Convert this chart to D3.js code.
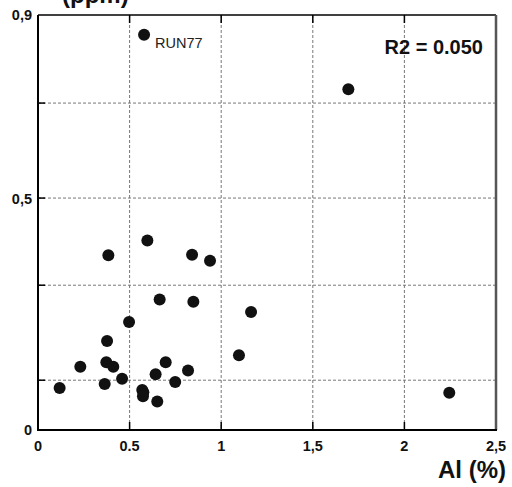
<!DOCTYPE html>
<html>
<head>
<meta charset="utf-8" />
<script src="https://d3js.org/d3.v7.min.js"></script>
<style>
  body { margin: 0; background: #fff; }
  svg { font-family: "Liberation Sans", Arial, sans-serif; }
  .tick-label { font-size: 14.5px; font-weight: bold; fill: #111; }
  .grid { stroke: #777; stroke-width: 1; stroke-dasharray: 3,2; }
</style>
</head>
<body>
<div id="chart"></div>
<script>
// Al (%) vs ppm, one dot per sample
var alValues = [0.118, 0.231, 0.364, 0.373, 0.411, 0.377, 0.384, 0.459, 0.497, 0.569,
                0.575, 0.573, 0.597, 0.642, 0.651, 0.664, 0.697, 0.749, 0.819, 0.841,
                0.848, 0.939, 1.097, 1.163, 0.579, 1.694, 2.245];
var ppmValues = [0.091, 0.137, 0.100, 0.147, 0.137, 0.193, 0.379, 0.111, 0.234, 0.087,
                 0.082, 0.073, 0.411, 0.121, 0.062, 0.283, 0.147, 0.104, 0.129, 0.380,
                 0.278, 0.367, 0.162, 0.256, 0.857, 0.739, 0.081];
var pointLabels = ["", "", "", "", "", "", "", "", "", "", "", "", "", "", "", "", "", "",
                   "", "", "", "", "", "", "RUN77", "", ""];

var xTicks = [0, 0.5, 1, 1.5, 2, 2.5];
var xTickLabels = ["0", "0.5", "1", "1,5", "2", "2,5"];
var xGrid = [0.5, 1, 1.5, 2];
var yTicks = [0, 0.5, 0.9];
var yTickLabels = ["0", "0,5", "0,9"];
var yGrid = [0.108, 0.314, 0.503, 0.709];
var r2Text = "R2 = 0.050";

var W = 512, H = 487;
var padL = 38, padR = 496, padT = 15, padB = 430;

var svg = d3.select("#chart").append("svg")
    .attr("width", W).attr("height", H);

var x = d3.scaleLinear().domain([0, 2.5]).range([padL, padR]);
var y = d3.scaleLinear().domain([0, 0.9]).range([padB, padT]);

// grid
svg.selectAll(".gx").data(xGrid).enter().append("line")
    .attr("class", "grid")
    .attr("x1", d => x(d)).attr("x2", d => x(d))
    .attr("y1", padT).attr("y2", padB);
svg.selectAll(".gy").data(yGrid).enter().append("line")
    .attr("class", "grid")
    .attr("x1", padL).attr("x2", padR)
    .attr("y1", d => y(d)).attr("y2", d => y(d));

// inner ticks
svg.selectAll(".tb").data(xGrid).enter().append("line")
    .attr("x1", d => x(d)).attr("x2", d => x(d))
    .attr("y1", padB).attr("y2", padB - 8)
    .attr("stroke", "#000").attr("stroke-width", 1.5);
svg.selectAll(".tt").data(xGrid).enter().append("line")
    .attr("x1", d => x(d)).attr("x2", d => x(d))
    .attr("y1", padT).attr("y2", padT + 8)
    .attr("stroke", "#000").attr("stroke-width", 1.5);
svg.selectAll(".tl").data(yGrid).enter().append("line")
    .attr("x1", padL).attr("x2", padL + 7)
    .attr("y1", d => y(d)).attr("y2", d => y(d))
    .attr("stroke", "#000").attr("stroke-width", 1.5);

// frame
svg.append("line").attr("x1", padL).attr("x2", padR).attr("y1", padT).attr("y2", padT)
    .attr("stroke", "#000").attr("stroke-width", 1.5);
svg.append("line").attr("x1", padR).attr("x2", padR).attr("y1", padT).attr("y2", padB)
    .attr("stroke", "#555").attr("stroke-width", 2.5);
svg.append("line").attr("x1", padL).attr("x2", padL).attr("y1", padT).attr("y2", padB + 1)
    .attr("stroke", "#000").attr("stroke-width", 2);
svg.append("line").attr("x1", padL).attr("x2", padR + 1).attr("y1", padB).attr("y2", padB)
    .attr("stroke", "#000").attr("stroke-width", 2);

// tick labels
svg.selectAll(".xl").data(xTicks).enter().append("text")
    .attr("class", "tick-label")
    .attr("x", d => x(d)).attr("y", padB + 21)
    .attr("text-anchor", "middle")
    .text((d, i) => xTickLabels[i]);
svg.selectAll(".yl").data(yTicks).enter().append("text")
    .attr("class", "tick-label")
    .attr("x", padL - 6).attr("y", d => y(d) + 5)
    .attr("text-anchor", "end")
    .text((d, i) => yTickLabels[i]);

// points
var pts = alValues.map((v, i) => ({ al: v, ppm: ppmValues[i], label: pointLabels[i] }));
svg.selectAll(".dot").data(pts).enter().append("circle")
    .attr("class", "dot")
    .attr("cx", d => x(d.al)).attr("cy", d => y(d.ppm))
    .attr("r", 6).attr("fill", "#111");
svg.selectAll(".plab").data(pts.filter(d => d.label)).enter().append("text")
    .attr("x", d => x(d.al) + 11).attr("y", d => y(d.ppm) + 13)
    .attr("font-size", "14.5px").attr("fill", "#222")
    .text(d => d.label);

// texts
svg.append("text")
    .attr("x", 483).attr("y", 54)
    .attr("text-anchor", "end")
    .attr("font-size", "20px").attr("font-weight", "bold").attr("fill", "#111")
    .text(r2Text);
svg.append("text")
    .attr("x", 506).attr("y", 478)
    .attr("text-anchor", "end")
    .attr("font-size", "24px").attr("font-weight", "bold").attr("fill", "#111")
    .text("Al (%)");
svg.append("text")
    .attr("x", 62).attr("y", 3)
    .attr("font-size", "24px").attr("font-weight", "bold").attr("fill", "#111")
    .text("(ppm)");
</script>
</body>
</html>
